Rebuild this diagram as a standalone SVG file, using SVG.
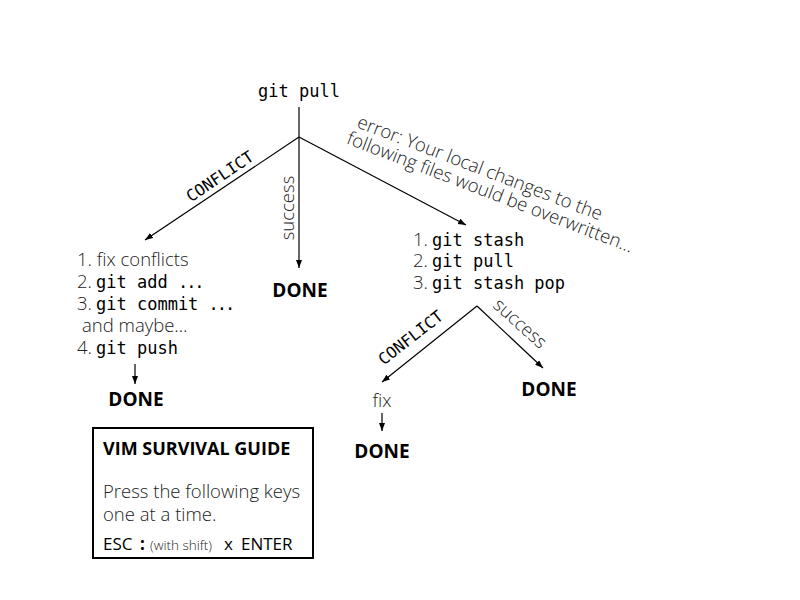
<svg xmlns="http://www.w3.org/2000/svg" width="800" height="600" viewBox="0 0 800 600">
<style>
.code{font-family:"DejaVu Sans Mono","Liberation Mono",monospace;font-size:17px;fill:#000}
.lt{font-family:"Open Sans","Noto Sans",sans-serif;font-weight:300;font-size:18.5px;fill:#222}
.done{font-family:"Open Sans","Noto Sans",sans-serif;font-weight:700;font-size:19px;fill:#000;text-anchor:middle}
.cf{font-family:"DejaVu Sans Mono","Liberation Mono",monospace;font-size:16px;fill:#000;text-anchor:middle}
.ln{stroke:#000;stroke-width:1.2;fill:none}
.rg{font-family:"Open Sans","Noto Sans",sans-serif;font-size:17px;fill:#000}
.dots{letter-spacing:-2px}
</style>
<defs>
<marker id="ah" markerUnits="userSpaceOnUse" markerWidth="9" markerHeight="7" refX="8" refY="3" orient="auto">
<path d="M0,0 L8,3 L0,6 z" fill="#000"/>
</marker>
</defs>
<rect width="800" height="600" fill="#fff"/>
<g id="connectors">
<line class="ln" x1="299" y1="107" x2="299" y2="268" marker-end="url(#ah)"/>
<line class="ln" x1="299" y1="137" x2="145" y2="240" marker-end="url(#ah)"/>
<line class="ln" x1="299" y1="137" x2="466" y2="225" marker-end="url(#ah)"/>
<line class="ln" x1="135" y1="364" x2="135" y2="384" marker-end="url(#ah)"/>
<line class="ln" x1="477" y1="306" x2="382" y2="382" marker-end="url(#ah)"/>
<line class="ln" x1="477" y1="306" x2="543" y2="368" marker-end="url(#ah)"/>
<line class="ln" x1="382" y1="413" x2="382" y2="431" marker-end="url(#ah)"/>
<text class="cf" transform="translate(223,181) rotate(-34)">CONFLICT</text>
<text class="lt" text-anchor="middle" transform="translate(294,208) rotate(-90)">success</text>
<g transform="translate(356,127) rotate(21)">
<text class="lt" x="0" y="0">error: Your local changes to the</text>
<text class="lt" x="-4" y="19">following files would be overwritten…</text>
</g>
<text class="cf" transform="translate(414,342) rotate(-38)">CONFLICT</text>
<text class="lt" text-anchor="middle" transform="translate(516,328) rotate(42)">success</text>
</g>
<g id="root"><text class="code" x="299" y="97" text-anchor="middle">git pull</text></g>
<g id="done-success"><text class="done" x="300" y="297">DONE</text></g>
<g id="conflict-steps">
<text class="lt" x="77" y="266">1. fix conflicts</text>
<text x="77" y="288"><tspan class="lt">2.</tspan><tspan class="code" x="96">git add </tspan><tspan class="code dots">...</tspan></text>
<text x="77" y="310"><tspan class="lt">3.</tspan><tspan class="code" x="96">git commit </tspan><tspan class="code dots">...</tspan></text>
<text class="lt" x="82" y="332">and maybe…</text>
<text x="77" y="354"><tspan class="lt">4.</tspan><tspan class="code" x="96">git push</tspan></text>
</g>
<g id="done-conflict"><text class="done" x="136" y="406">DONE</text></g>
<g id="stash-steps">
<text x="413" y="246"><tspan class="lt">1.</tspan><tspan class="code" x="432">git stash</tspan></text>
<text x="413" y="267"><tspan class="lt">2.</tspan><tspan class="code" x="432">git pull</tspan></text>
<text x="413" y="289"><tspan class="lt">3.</tspan><tspan class="code" x="432">git stash pop</tspan></text>
</g>
<g id="done-stash"><text class="done" x="549" y="396">DONE</text></g>
<g id="fix"><text class="lt" x="382" y="407" text-anchor="middle">fix</text></g>
<g id="done-fix"><text class="done" x="382" y="458">DONE</text></g>
<g id="vim-guide">
<rect x="93" y="428" width="220" height="130" fill="none" stroke="#000" stroke-width="2"/>
<text x="103" y="455" font-family="'Open Sans','Noto Sans',sans-serif" font-weight="700" font-size="18" fill="#000">VIM SURVIVAL GUIDE</text>
<text class="lt" x="103" y="498">Press the following keys</text>
<text class="lt" x="103" y="521">one at a time.</text>
<text x="103" y="550"><tspan class="rg">ESC</tspan><tspan class="rg" x="140" font-weight="700">:</tspan><tspan x="150" font-family="'Open Sans','Noto Sans',sans-serif" font-weight="300" font-size="13.5" fill="#222">(with shift)</tspan><tspan class="rg" x="224">x</tspan><tspan class="rg" x="241">ENTER</tspan></text>
</g>
</svg>
